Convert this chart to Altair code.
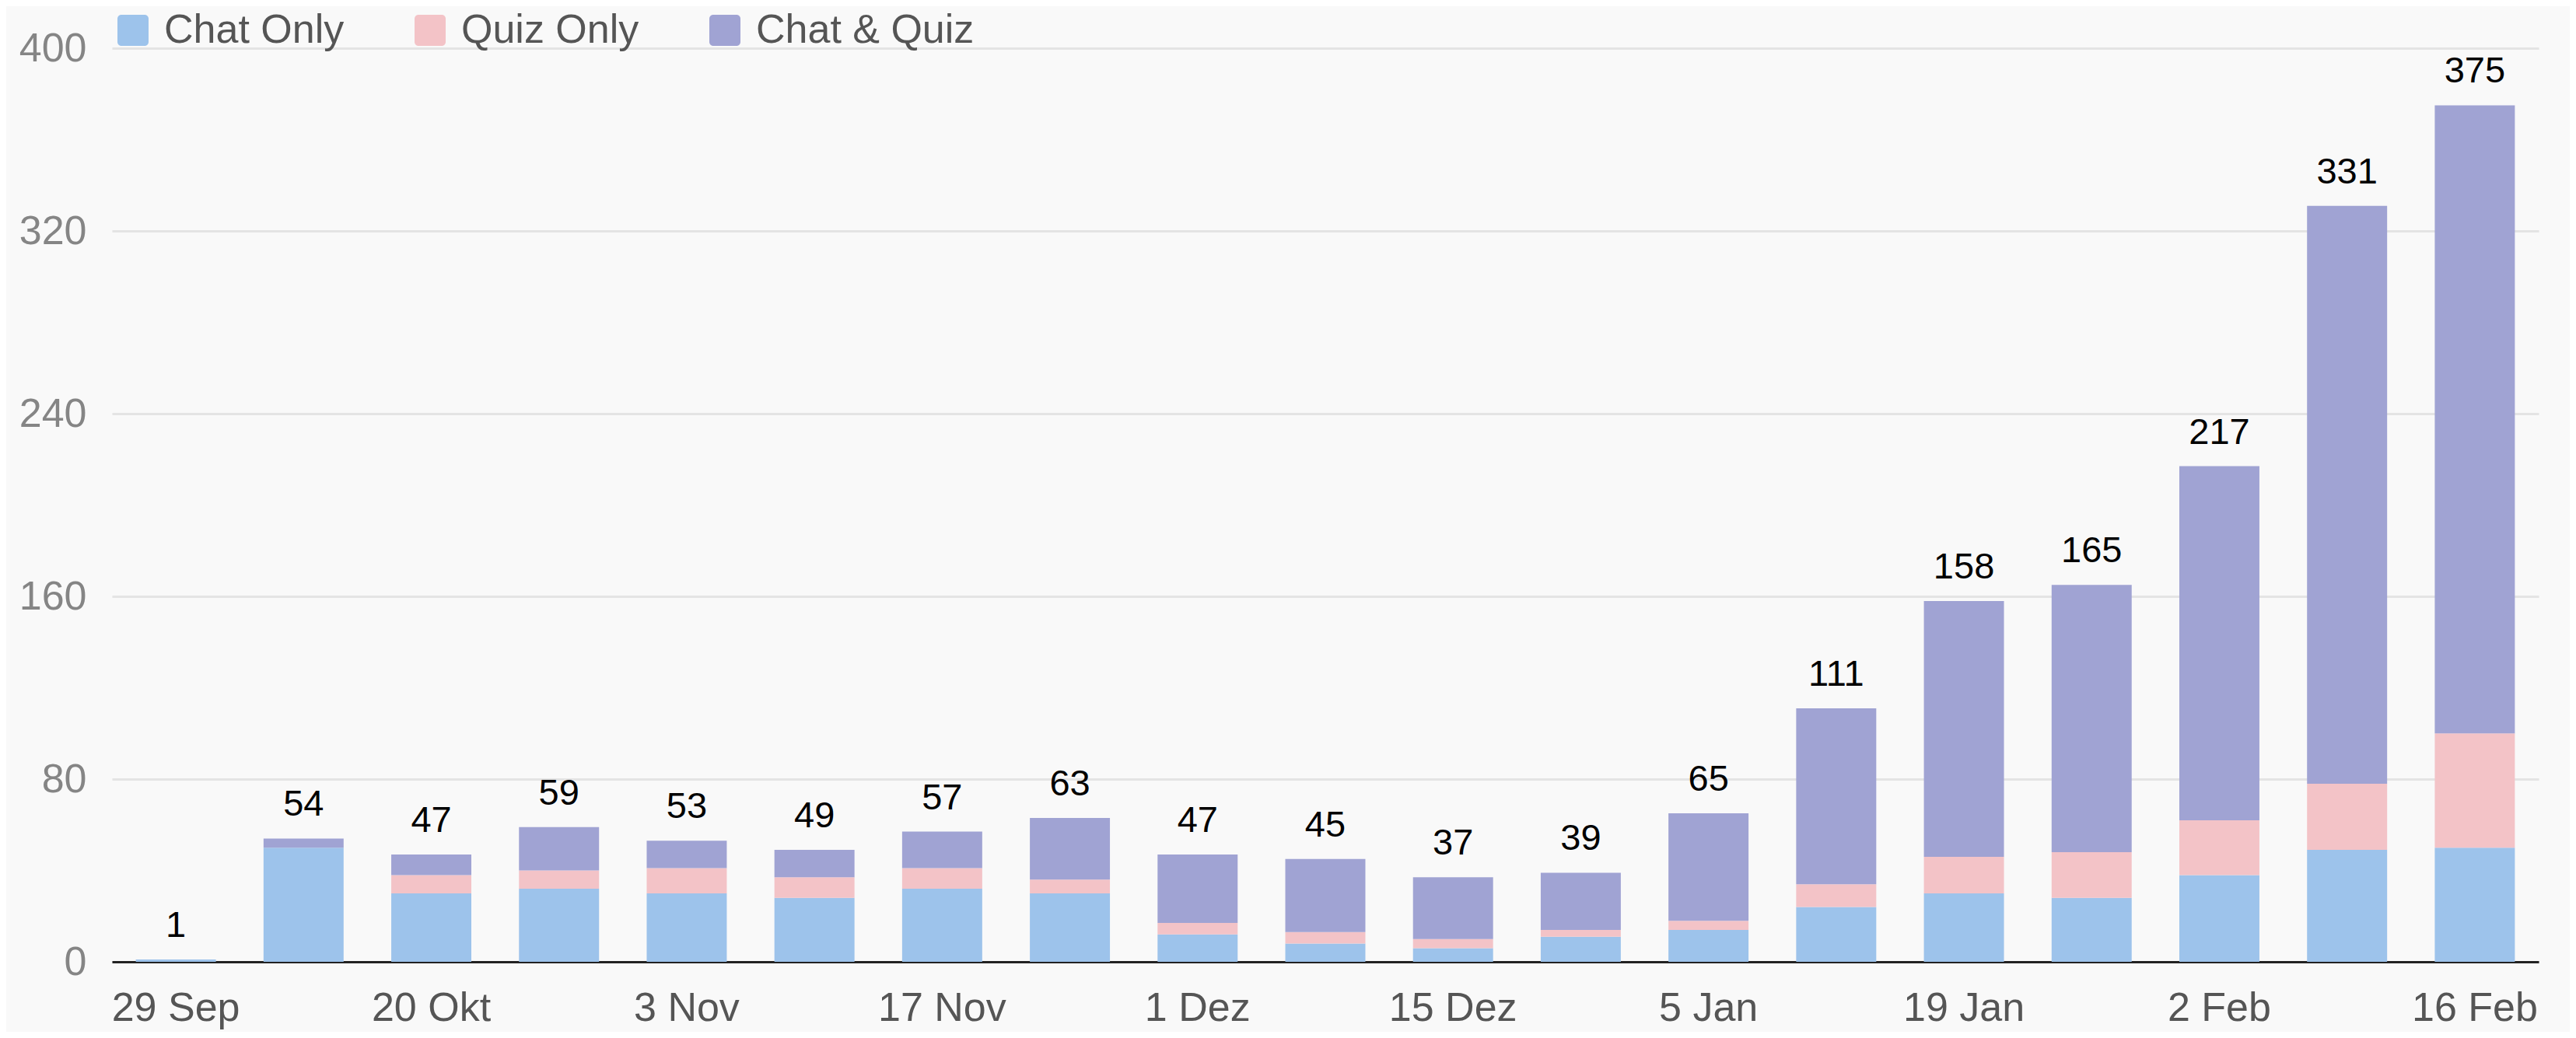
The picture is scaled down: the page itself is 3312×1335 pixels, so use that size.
import altair as alt
import pandas as pd

week_labels = ["29 Sep", "", "20 Okt", "", "3 Nov", "", "17 Nov", "", "1 Dez", "",
               "15 Dez", "", "5 Jan", "", "19 Jan", "", "2 Feb", "", "16 Feb"]
series = ["Chat Only", "Quiz Only", "Chat & Quiz"]
colors = ["#9dc3eb", "#f3c3c7", "#a0a3d3"]

chat_only = [1, 50, 30, 32, 30, 28, 32, 30, 12, 8, 6, 11, 14, 24, 30, 28, 38, 49, 50]
quiz_only = [0, 0, 8, 8, 11, 9, 9, 6, 5, 5, 4, 3, 4, 10, 16, 20, 24, 29, 50]
chat_quiz = [0, 4, 9, 19, 12, 12, 16, 27, 30, 32, 27, 25, 47, 77, 112, 117, 155, 253, 275]
totals = [1, 54, 47, 59, 53, 49, 57, 63, 47, 45, 37, 39, 65, 111, 158, 165, 217, 331, 375]

rows = []
for i in range(len(week_labels)):
    for k, (name, vals) in enumerate(zip(series, [chat_only, quiz_only, chat_quiz])):
        rows.append({"idx": i, "series": name, "order": k, "value": vals[i]})
df = pd.DataFrame(rows)
df_tot = pd.DataFrame({"idx": list(range(len(totals))), "total": totals})

label_js = "[" + ",".join("'" + s + "'" for s in week_labels) + "][datum.value]"

FONT = "Liberation Sans"
rounded = ("M-0.75,-1H0.75A0.25,0.25 0 0 1 1,-0.75V0.75A0.25,0.25 0 0 1 0.75,1"
           "H-0.75A0.25,0.25 0 0 1 -1,0.75V-0.75A0.25,0.25 0 0 1 -0.75,-1Z")

x_enc = alt.X("idx:O",
              scale=alt.Scale(paddingInner=0.373, paddingOuter=0.1865),
              axis=alt.Axis(title=None, labelExpr=label_js, labelAngle=0,
                            ticks=False, domain=True, domainColor="#222222",
                            domainWidth=3, labelFontSize=52, labelColor="#555555",
                            labelFont=FONT, labelPadding=75,
                            labelBaseline="alphabetic", grid=False))

bars = alt.Chart(df).mark_bar().encode(
    x=x_enc,
    y=alt.Y("value:Q", stack="zero",
            scale=alt.Scale(domain=[0, 400], nice=False),
            axis=alt.Axis(title=None, values=[0, 80, 160, 240, 320, 400],
                          domain=False, ticks=False, grid=True,
                          gridColor="#e4e4e4", gridWidth=3,
                          labelFontSize=52, labelColor="#858585",
                          labelFont=FONT, labelPadding=33)),
    color=alt.Color("series:N",
                    scale=alt.Scale(domain=series, range=colors),
                    legend=alt.Legend(title=None, orient="none", direction="horizontal",
                                      legendX=1, legendY=-49,
                                      symbolType=rounded, symbolSize=1600,
                                      symbolStrokeWidth=0, symbolOpacity=1,
                                      labelFontSize=52, labelColor="#555555",
                                      labelFont=FONT, labelOffset=14, labelLimit=1000,
                                      columnPadding=84, padding=0)),
    order=alt.Order("order:Q", sort="ascending"),
)

text = alt.Chart(df_tot).mark_text(
    fontSize=47, font=FONT, color="#000000", baseline="alphabetic", dy=-29
).encode(
    x=alt.X("idx:O"),
    y=alt.Y("total:Q"),
    text=alt.Text("total:Q"),
)

chart = alt.layer(bars, text).properties(
    width=3120, height=1175,
    background="#f9f9f9",
    padding={"left": 136, "top": 54, "right": 40, "bottom": 90},
    autosize=alt.AutoSizeParams(type="none"),
).configure_view(stroke=None)

chart.save("out.html", embed_options={"renderer": "svg", "actions": False})
